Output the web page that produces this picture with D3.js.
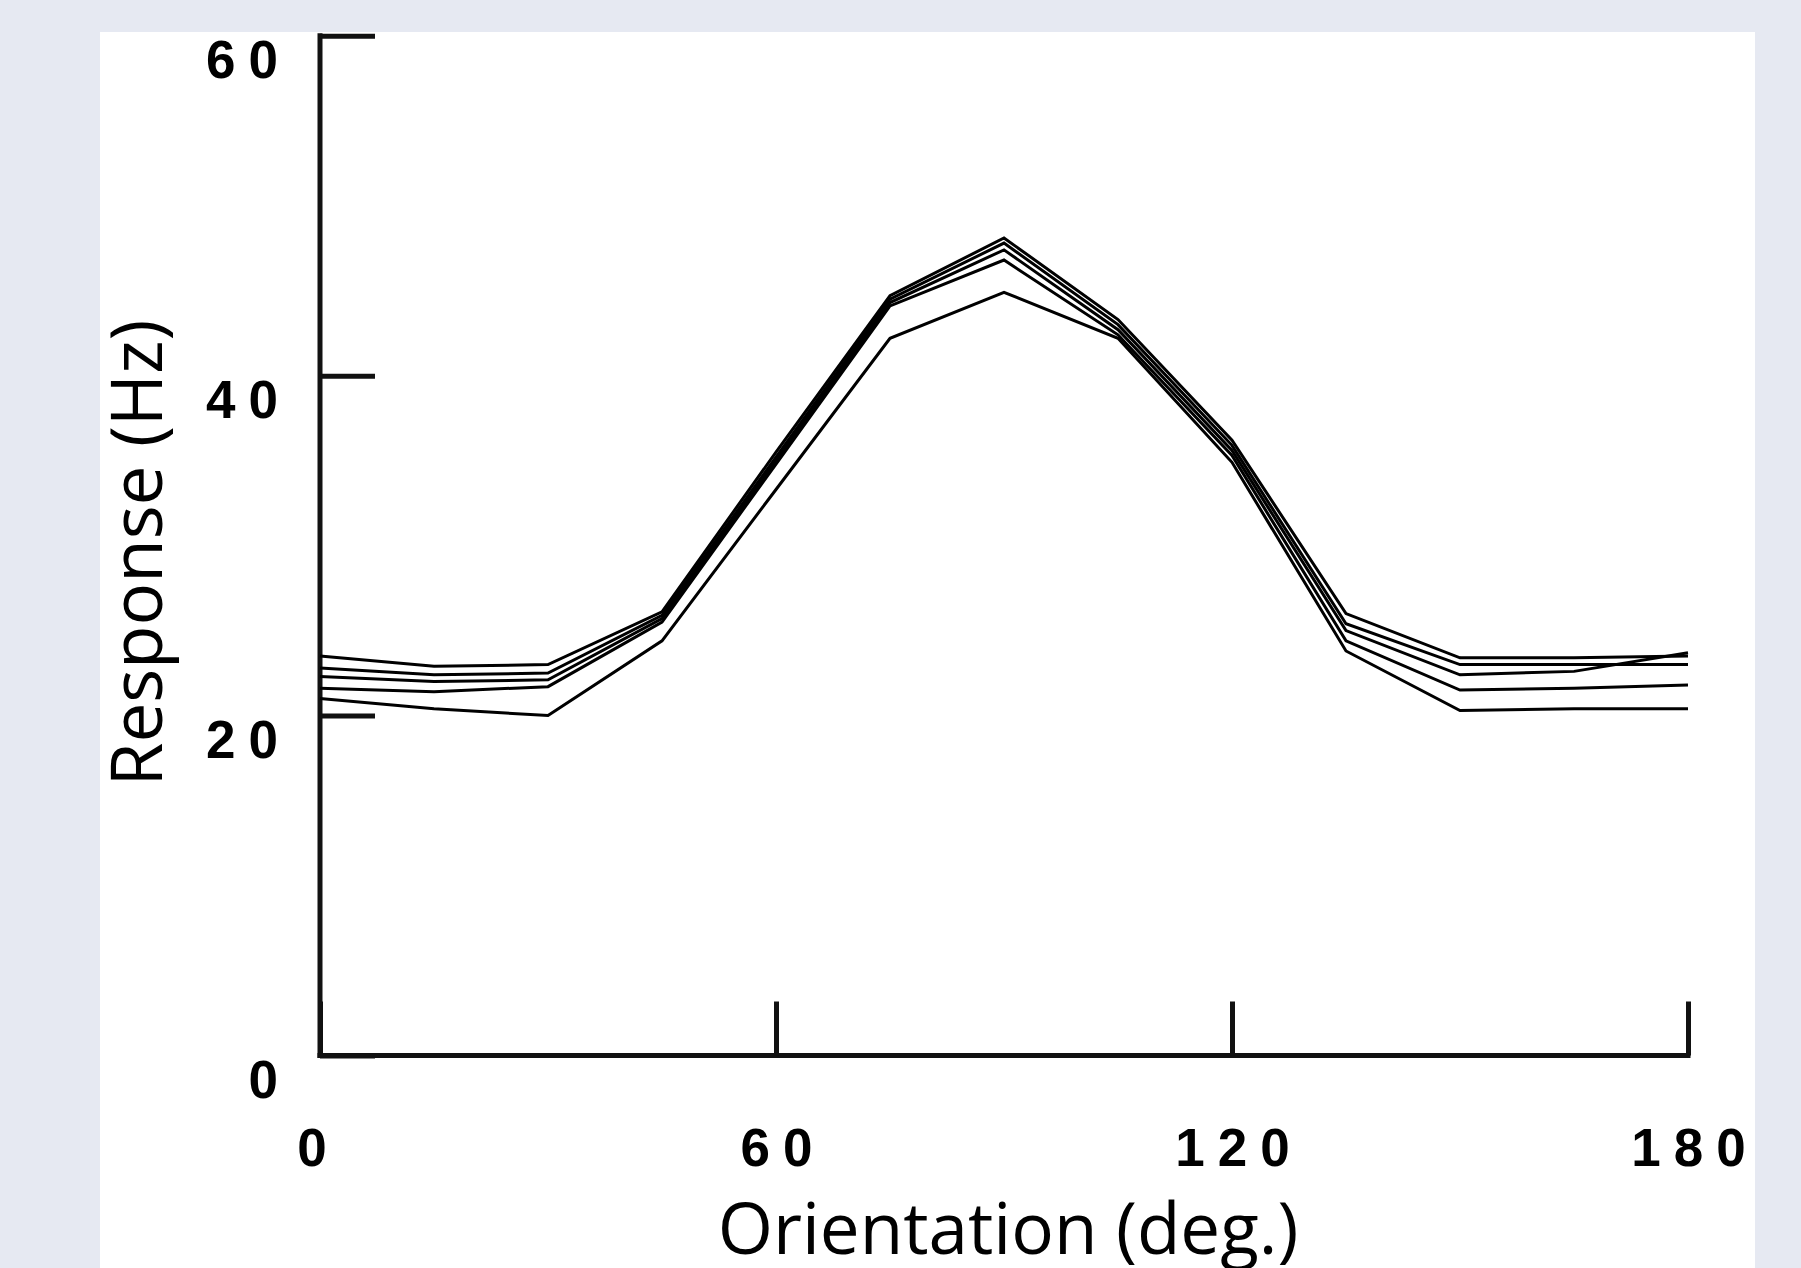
<!DOCTYPE html>
<html>
<head>
<meta charset="utf-8">
<script src="https://cdn.jsdelivr.net/npm/d3@7"></script>
<style>
  html, body { margin: 0; padding: 0; background: #e6e9f2; }
  svg { display: block; }
</style>
</head>
<body>
<svg id="chart" width="1801" height="1268"></svg>
<script>
// orientation of the stimulus, degrees
var orientations = [0, 15, 30, 45, 60, 75, 90, 105, 120, 135, 150, 165, 180];

// one tuning curve per cell (Hz)
var curveA = [23.5, 22.9, 23.0, 26.1, 35.5, 44.7, 48.1, 43.3, 36.2, 26.0, 23.4, 23.4, 23.5];
var curveB = [22.8, 22.4, 22.5, 25.9, 35.2, 44.5, 47.8, 43.0, 35.9, 25.4, 23.0, 23.0, 23.0];
var curveC = [22.3, 22.0, 22.1, 25.7, 35.0, 44.3, 47.4, 42.7, 35.6, 25.0, 22.4, 22.6, 23.7];
var curveD = [21.6, 21.4, 21.7, 25.5, 34.8, 44.1, 46.8, 42.4, 35.3, 24.4, 21.5, 21.6, 21.8];
var curveE = [21.0, 20.4, 20.0, 24.4, 33.3, 42.2, 44.9, 42.2, 34.9, 23.8, 20.3, 20.4, 20.4];

var xTicks = [0, 60, 120, 180];
var yTicks = [0, 20, 40, 60];
var xTitle = "Orientation (deg.)";
var yTitle = "Response (Hz)";

var svg = d3.select('#chart');

// white panel
svg.append('rect')
    .attr('x', 100).attr('y', 32)
    .attr('width', 1655).attr('height', 1240)
    .attr('fill', '#ffffff');

var xScale = d3.scaleLinear().domain([0, 180]).range([320, 1688]);
var yScale = d3.scaleLinear().domain([0, 60]).range([1055.5, 35.7]);

var tickFont = '"Liberation Sans", Arial, sans-serif';
var letterGap = 13;

// x axis, ticks pointing up into the plot
var xAxis = d3.axisBottom(xScale)
    .tickValues(xTicks)
    .tickFormat(d3.format('d'))
    .tickSize(-54)
    .tickSizeOuter(0)
    .tickPadding(73);

var gx = svg.append('g')
    .attr('transform', 'translate(0,' + yScale(0) + ')')
    .call(xAxis);

// y axis, ticks pointing right into the plot
var yAxis = d3.axisLeft(yScale)
    .tickValues(yTicks)
    .tickFormat(d3.format('d'))
    .tickSize(-55)
    .tickSizeOuter(0)
    .tickPadding(42);

var gy = svg.append('g')
    .attr('transform', 'translate(' + xScale(0) + ',0)')
    .call(yAxis);

[gx, gy].forEach(function(g) {
    g.select('.domain').attr('stroke', '#111').attr('stroke-width', 5);
    g.selectAll('.tick line').attr('stroke', '#111').attr('stroke-width', 5);
    g.selectAll('.tick text')
        .attr('fill', '#000')
        .style('font-family', tickFont)
        .style('font-weight', 'bold')
        .style('font-size', '53px')
        .style('letter-spacing', letterGap + 'px');
});

// extend the axis lines so the corner closes
gx.select('.domain').attr('d', 'M' + (xScale(0) - 2.5) + ',0H' + (xScale(180) + 2.5));
gy.select('.domain').attr('d', 'M0,' + (yScale(60) - 2.5) + 'V' + (yScale(0) + 2.5));

// trailing letter spacing shifts the ink, put it back
gx.selectAll('.tick text').attr('dy', '0.71em')
    .attr('x', function(d) { return d === 0 ? -2 : letterGap / 2; });
gy.selectAll('.tick text').attr('dy', 42).attr('x', -42 + letterGap);

// curves
var line = d3.line()
    .x(function(d, i) { return xScale(orientations[i]); })
    .y(function(d) { return yScale(d); });

[curveA, curveB, curveC, curveD, curveE].forEach(function(curve) {
    svg.append('path')
        .attr('d', line(curve))
        .attr('fill', 'none')
        .attr('stroke', '#000')
        .attr('stroke-width', 3)
        .attr('stroke-linejoin', 'miter');
});

var titleFont = '"Open Sans", "DejaVu Sans", sans-serif';

// the reference crops the descenders of this title at the picture's bottom edge
svg.append('text')
    .attr('x', 1008).attr('y', 1254)
    .attr('text-anchor', 'middle')
    .style('font-family', titleFont)
    .style('font-size', '71px')
    .attr('fill', '#000')
    .text(xTitle);

svg.append('text')
    .attr('transform', 'translate(162,553) rotate(-90)')
    .attr('text-anchor', 'middle')
    .style('font-family', titleFont)
    .style('font-size', '71px')
    .attr('fill', '#000')
    .text(yTitle);
</script>
</body>
</html>
